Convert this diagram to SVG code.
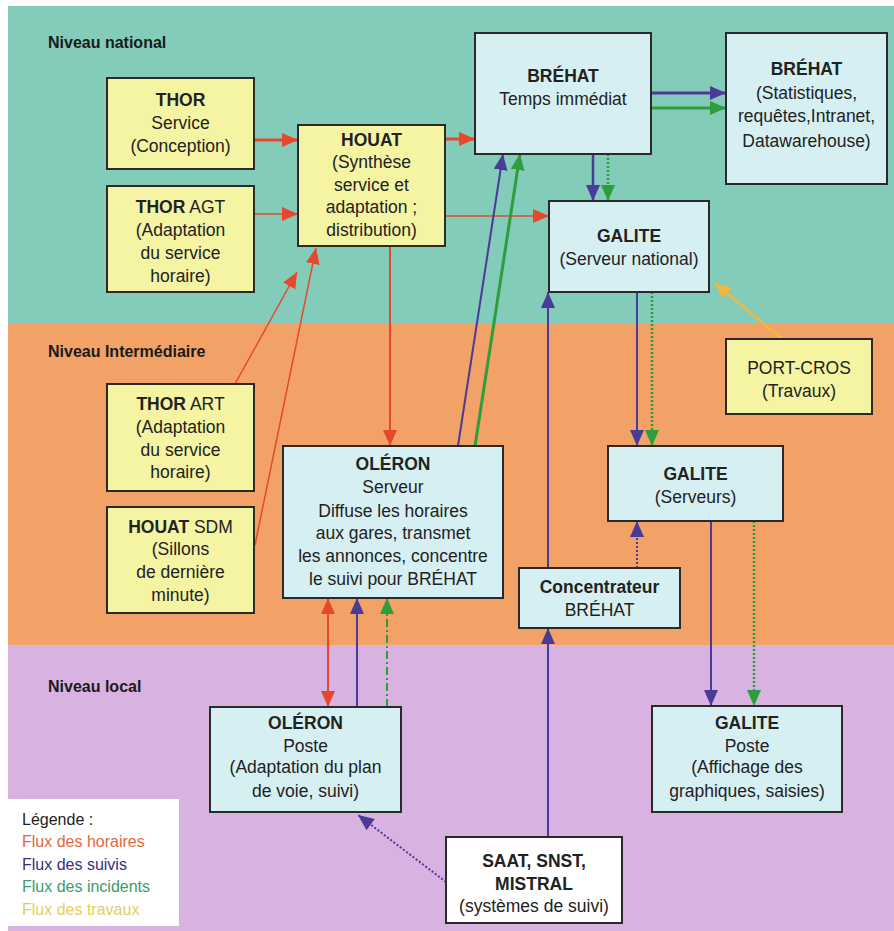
<svg xmlns="http://www.w3.org/2000/svg" width="894" height="931" viewBox="0 0 894 931">
<style>
text{font-family:"Liberation Sans",Arial,sans-serif;font-size:17.5px;fill:#222;text-anchor:middle}
.b{font-weight:bold}
.lvl{font-size:16px;font-weight:bold;text-anchor:start;fill:#1a1a1a}
.ylw{fill:#f4f4a2;stroke:#2a2a2a;stroke-width:2}
.blu{fill:#d6eff3;stroke:#2a2a2a;stroke-width:2}
.wht{fill:#ffffff;stroke:#2a2a2a;stroke-width:2}
.leg{font-size:16px;text-anchor:start}
.c{fill:none}
.red{stroke:#e5482c}
.bl{stroke:#4a3b98}
.gr{stroke:#2e9d3d}
.ye{stroke:#f4b73a}
.dot{stroke-dasharray:2 2}
.dd{stroke-dasharray:8 3 2 3}
</style>
<defs>
<marker id="aR" viewBox="0 0 16 14" refX="16" refY="7" markerWidth="16" markerHeight="14" markerUnits="userSpaceOnUse" orient="auto-start-reverse"><path d="M0,0 L16,7 L0,14 z" fill="#e5482c"/></marker>
<marker id="aB" viewBox="0 0 16 14" refX="16" refY="7" markerWidth="16" markerHeight="14" markerUnits="userSpaceOnUse" orient="auto"><path d="M0,0 L16,7 L0,14 z" fill="#4a3b98"/></marker>
<marker id="aG" viewBox="0 0 16 14" refX="16" refY="7" markerWidth="16" markerHeight="14" markerUnits="userSpaceOnUse" orient="auto"><path d="M0,0 L16,7 L0,14 z" fill="#2e9d3d"/></marker>
<marker id="aY" viewBox="0 0 16 14" refX="16" refY="7" markerWidth="16" markerHeight="14" markerUnits="userSpaceOnUse" orient="auto"><path d="M0,0 L16,7 L0,14 z" fill="#f4b73a"/></marker>
</defs>
<rect x="0" y="0" width="894" height="931" fill="#ffffff"/>
<rect x="8" y="6" width="886" height="318" fill="#83ccb9"/>
<rect x="8" y="323" width="886" height="322" fill="#f2a266"/>
<rect x="8" y="645" width="886" height="286" fill="#d8b2e0"/>
<text class="lvl" x="48" y="48">Niveau national</text>
<text class="lvl" x="48" y="357">Niveau Intermédiaire</text>
<text class="lvl" x="48" y="692">Niveau local</text>

<g id="connectors">
<line class="c red" x1="254" y1="140" x2="298" y2="140" stroke-width="3" marker-end="url(#aR)"/>
<line class="c red" x1="254" y1="214" x2="298" y2="214" stroke-width="1.5" marker-end="url(#aR)"/>
<line class="c red" x1="445" y1="139" x2="475" y2="139" stroke-width="3" marker-end="url(#aR)"/>
<line class="c red" x1="445" y1="216" x2="549" y2="216" stroke-width="1.5" marker-end="url(#aR)"/>
<line class="c red" x1="235" y1="384" x2="297" y2="272" stroke-width="1.5" marker-end="url(#aR)"/>
<line class="c red" x1="255" y1="545" x2="316" y2="248" stroke-width="1.5" marker-end="url(#aR)"/>
<line class="c red" x1="390" y1="246" x2="390" y2="446" stroke-width="2" marker-end="url(#aR)"/>
<line class="c red" x1="328" y1="598" x2="328" y2="707" stroke-width="2" marker-start="url(#aR)" marker-end="url(#aR)"/>

<line class="c bl" x1="651" y1="93" x2="726" y2="93" stroke-width="3" marker-end="url(#aB)"/>
<line class="c bl" x1="593" y1="154" x2="593" y2="201" stroke-width="2.5" marker-end="url(#aB)"/>
<line class="c bl" x1="458" y1="446" x2="503" y2="154" stroke-width="2" marker-end="url(#aB)"/>
<line class="c bl" x1="548" y1="568" x2="548" y2="292" stroke-width="2" marker-end="url(#aB)"/>
<line class="c bl" x1="637" y1="292" x2="637" y2="446" stroke-width="2" marker-end="url(#aB)"/>
<line class="c bl dot" x1="637" y1="568" x2="637" y2="521" stroke-width="2" marker-end="url(#aB)"/>
<line class="c bl" x1="711" y1="521" x2="711" y2="706" stroke-width="2" marker-end="url(#aB)"/>
<line class="c bl" x1="548" y1="837" x2="548" y2="628" stroke-width="2" marker-end="url(#aB)"/>
<line class="c bl dot" x1="446" y1="882" x2="358" y2="815" stroke-width="2" marker-end="url(#aB)"/>
<line class="c bl" x1="357" y1="707" x2="357" y2="598" stroke-width="2" marker-end="url(#aB)"/>

<line class="c gr" x1="651" y1="108" x2="726" y2="108" stroke-width="3" marker-end="url(#aG)"/>
<line class="c gr dot" x1="608" y1="154" x2="608" y2="201" stroke-width="2.5" marker-end="url(#aG)"/>
<line class="c gr" x1="475" y1="446" x2="520" y2="154" stroke-width="3" marker-end="url(#aG)"/>
<line class="c gr dot" x1="652" y1="292" x2="652" y2="446" stroke-width="2.5" marker-end="url(#aG)"/>
<line class="c gr dot" x1="754" y1="521" x2="754" y2="706" stroke-width="2.5" marker-end="url(#aG)"/>
<line class="c gr dd" x1="387" y1="707" x2="387" y2="598" stroke-width="2" marker-end="url(#aG)"/>

<line class="c ye" x1="782" y1="339" x2="715" y2="283" stroke-width="2.5" marker-end="url(#aY)"/>
</g>

<g id="thor-service"><rect class="ylw" x="107" y="78" width="147" height="91"/>
<text x="180.5" y="106" class="b">THOR</text><text x="180.5" y="129">Service</text><text x="180.5" y="152">(Conception)</text></g>

<g id="thor-agt"><rect class="ylw" x="107" y="186" width="147" height="106"/>
<text x="180.5" y="213"><tspan class="b">THOR</tspan> AGT</text><text x="180.5" y="236">(Adaptation</text><text x="180.5" y="259">du service</text><text x="180.5" y="282">horaire)</text></g>

<g id="houat"><rect class="ylw" x="298" y="125" width="147" height="121"/>
<text x="371.5" y="146" class="b">HOUAT</text><text x="371.5" y="168">(Synthèse</text><text x="371.5" y="191">service et</text><text x="371.5" y="213">adaptation ;</text><text x="371.5" y="236">distribution)</text></g>

<g id="brehat-ti"><rect class="blu" x="475" y="33" width="176" height="121"/>
<text x="563" y="82" class="b">BRÉHAT</text><text x="563" y="105">Temps immédiat</text></g>

<g id="brehat-stats"><rect class="blu" x="726" y="33" width="161" height="151"/>
<text x="806.5" y="75" class="b">BRÉHAT</text><text x="806.5" y="99">(Statistiques,</text><text x="806.5" y="122">requêtes,Intranet,</text><text x="806.5" y="147">Datawarehouse)</text></g>

<g id="galite-national"><rect class="blu" x="549" y="201" width="160" height="91"/>
<text x="629" y="242" class="b">GALITE</text><text x="629" y="265">(Serveur national)</text></g>

<g id="thor-art"><rect class="ylw" x="107" y="384" width="147" height="107"/>
<text x="180.5" y="410"><tspan class="b">THOR</tspan> ART</text><text x="180.5" y="433">(Adaptation</text><text x="180.5" y="456">du service</text><text x="180.5" y="478">horaire)</text></g>

<g id="houat-sdm"><rect class="ylw" x="107" y="507" width="147" height="106"/>
<text x="180.5" y="533"><tspan class="b">HOUAT</tspan> SDM</text><text x="180.5" y="555">(Sillons</text><text x="180.5" y="578">de dernière</text><text x="180.5" y="601">minute)</text></g>

<g id="oleron-serveur"><rect class="blu" x="283" y="446" width="220" height="152"/>
<text x="393" y="470" class="b">OLÉRON</text><text x="393" y="493">Serveur</text><text x="393" y="517">Diffuse les horaires</text><text x="393" y="539">aux gares, transmet</text><text x="393" y="562">les annonces, concentre</text><text x="393" y="585">le suivi pour BRÉHAT</text></g>

<g id="port-cros"><rect class="ylw" x="726" y="339" width="146" height="75"/>
<text x="799" y="374">PORT-CROS</text><text x="799" y="397">(Travaux)</text></g>

<g id="galite-serveurs"><rect class="blu" x="608" y="446" width="175" height="75"/>
<text x="695.5" y="480" class="b">GALITE</text><text x="695.5" y="503">(Serveurs)</text></g>

<g id="concentrateur"><rect class="blu" x="519" y="568" width="161" height="60"/>
<text x="599.5" y="593" class="b">Concentrateur</text><text x="599.5" y="616">BRÉHAT</text></g>

<g id="oleron-poste"><rect class="blu" x="210" y="707" width="191" height="105"/>
<text x="305.5" y="729" class="b">OLÉRON</text><text x="305.5" y="752">Poste</text><text x="305.5" y="773">(Adaptation du plan</text><text x="305.5" y="797">de voie, suivi)</text></g>

<g id="galite-poste"><rect class="blu" x="652" y="706" width="190" height="106"/>
<text x="747" y="729" class="b">GALITE</text><text x="747" y="752">Poste</text><text x="747" y="773">(Affichage des</text><text x="747" y="797">graphiques, saisies)</text></g>

<g id="saat"><rect class="wht" x="446" y="837" width="176" height="86"/>
<text x="534" y="867" class="b">SAAT, SNST,</text><text x="534" y="890" class="b">MISTRAL</text><text x="534" y="912">(systèmes de suivi)</text></g>

<g id="legend"><rect x="8" y="799" width="171" height="127" fill="#ffffff"/>
<text class="leg" x="22" y="825" fill="#222">Légende :</text>
<text class="leg" x="22" y="847" style="fill:#e0683e">Flux des horaires</text>
<text class="leg" x="22" y="870" style="fill:#3a2c82">Flux des suivis</text>
<text class="leg" x="22" y="892" style="fill:#3c9a6c">Flux des incidents</text>
<text class="leg" x="22" y="915" style="fill:#e2cf5c">Flux des travaux</text></g>
</svg>
